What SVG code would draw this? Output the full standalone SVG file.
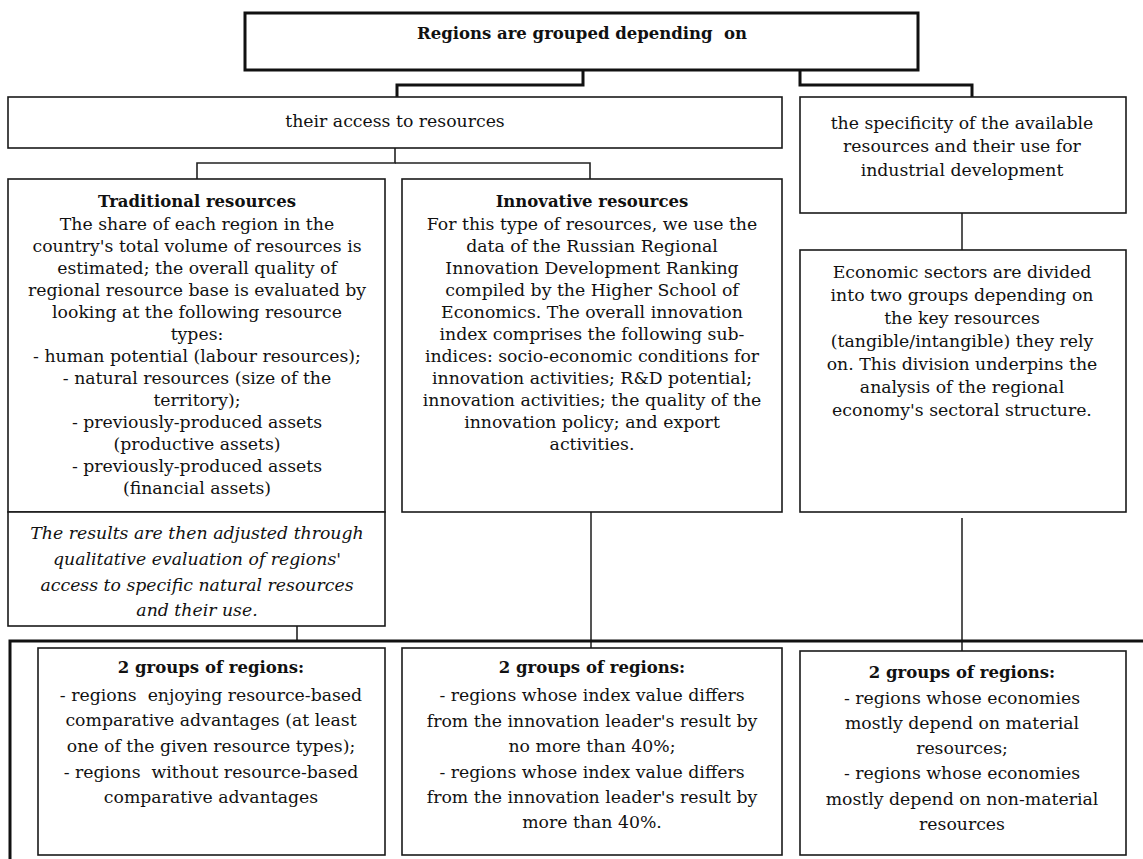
<svg xmlns="http://www.w3.org/2000/svg" width="1143" height="859" viewBox="0 0 1143 859">
<style>
.box{fill:#fff;stroke:#1a1a1a;stroke-width:1.6}
.thick{fill:#fff;stroke:#111;stroke-width:3}
.ln{fill:none;stroke:#222;stroke-width:1.6}
.lt{fill:none;stroke:#111;stroke-width:3}
.lg{fill:none;stroke:#555;stroke-width:2}
text{font-family:"DejaVu Serif","Liberation Serif",serif;font-size:17.3px;fill:#111;text-anchor:middle}
.b{font-weight:bold;font-size:16.5px}
.i{font-style:italic}
</style>
<rect width="1143" height="859" fill="#fff"/>
<g id="connectors">
<polyline class="lt" points="583,70 583,85 397,85 397,97"/>
<polyline class="lt" points="800,70 800,85 972,85 972,97"/>
<polyline class="ln" points="395,148 395,163 197,163 197,179"/>
<polyline class="ln" points="395,163 590,163 590,179"/>
<line class="lg" x1="962" y1="213" x2="962" y2="250"/>
<line class="ln" x1="297" y1="626" x2="297" y2="641"/>
<line class="lg" x1="591" y1="512" x2="591" y2="648"/>
<line class="lg" x1="962" y1="518" x2="962" y2="651"/>
<polyline class="lt" points="10,859 10,641 1143,641"/>
</g>
<g id="top"><rect class="thick" x="245" y="13" width="673" height="57"/>
<text class="b" x="582" y="39">Regions are grouped depending&#160; on</text></g>
<g id="access"><rect class="box" x="8" y="97" width="774" height="51"/>
<text x="395" y="127">their access to resources</text></g>
<g id="specificity"><rect class="box" x="800" y="97" width="326" height="116"/>
<text x="962" y="129">the specificity of the available</text>
<text x="962" y="152">resources and their use for</text>
<text x="962" y="176">industrial development</text></g>
<g id="traditional"><rect class="box" x="8" y="179" width="377" height="333"/>
<text class="b" x="197" y="207">Traditional resources</text>
<text x="197" y="230">The share of each region in the</text>
<text x="197" y="252">country's total volume of resources is</text>
<text x="197" y="274">estimated; the overall quality of</text>
<text x="197" y="296">regional resource base is evaluated by</text>
<text x="197" y="318">looking at the following resource</text>
<text x="197" y="340">types:</text>
<text x="197" y="362">- human potential (labour resources);</text>
<text x="197" y="384">- natural resources (size of the</text>
<text x="197" y="406">territory);</text>
<text x="197" y="428">- previously-produced assets</text>
<text x="197" y="450">(productive assets)</text>
<text x="197" y="472">- previously-produced assets</text>
<text x="197" y="494">(financial assets)</text></g>
<g id="innovative"><rect class="box" x="402" y="179" width="380" height="333"/>
<text class="b" x="592" y="207">Innovative resources</text>
<text x="592" y="230">For this type of resources, we use the</text>
<text x="592" y="252">data of the Russian Regional</text>
<text x="592" y="274">Innovation Development Ranking</text>
<text x="592" y="296">compiled by the Higher School of</text>
<text x="592" y="318">Economics. The overall innovation</text>
<text x="592" y="340">index comprises the following sub-</text>
<text x="592" y="362">indices: socio-economic conditions for</text>
<text x="592" y="384">innovation activities; R&amp;D potential;</text>
<text x="592" y="406">innovation activities; the quality of the</text>
<text x="592" y="428">innovation policy; and export</text>
<text x="592" y="450">activities.</text></g>
<g id="economic"><rect class="box" x="800" y="250" width="326" height="262"/>
<text x="962" y="278">Economic sectors are divided</text>
<text x="962" y="301">into two groups depending on</text>
<text x="962" y="324">the key resources</text>
<text x="962" y="347">(tangible/intangible) they rely</text>
<text x="962" y="370">on. This division underpins the</text>
<text x="962" y="393">analysis of the regional</text>
<text x="962" y="416">economy's sectoral structure.</text></g>
<g id="adjusted"><rect class="box" x="8" y="512" width="377" height="114"/>
<text class="i" x="197" y="539">The results are then adjusted through</text>
<text class="i" x="197" y="565">qualitative evaluation of regions'</text>
<text class="i" x="197" y="591">access to specific natural resources</text>
<text class="i" x="197" y="616">and their use.</text></g>
<g id="groups1"><rect class="box" x="38" y="648" width="347" height="207"/>
<text class="b" x="211" y="673">2 groups of regions:</text>
<text x="211" y="701">- regions&#160; enjoying resource-based</text>
<text x="211" y="726">comparative advantages (at least</text>
<text x="211" y="752">one of the given resource types);</text>
<text x="211" y="778">- regions&#160; without resource-based</text>
<text x="211" y="803">comparative advantages</text></g>
<g id="groups2"><rect class="box" x="402" y="648" width="380" height="207"/>
<text class="b" x="592" y="673">2 groups of regions:</text>
<text x="592" y="701">- regions whose index value differs</text>
<text x="592" y="727">from the innovation leader's result by</text>
<text x="592" y="752">no more than 40%;</text>
<text x="592" y="778">- regions whose index value differs</text>
<text x="592" y="803">from the innovation leader's result by</text>
<text x="592" y="828">more than 40%.</text></g>
<g id="groups3"><rect class="box" x="800" y="651" width="326" height="204"/>
<text class="b" x="962" y="678">2 groups of regions:</text>
<text x="962" y="704">- regions whose economies</text>
<text x="962" y="729">mostly depend on material</text>
<text x="962" y="754">resources;</text>
<text x="962" y="779">- regions whose economies</text>
<text x="962" y="805">mostly depend on non-material</text>
<text x="962" y="830">resources</text></g>
</svg>
